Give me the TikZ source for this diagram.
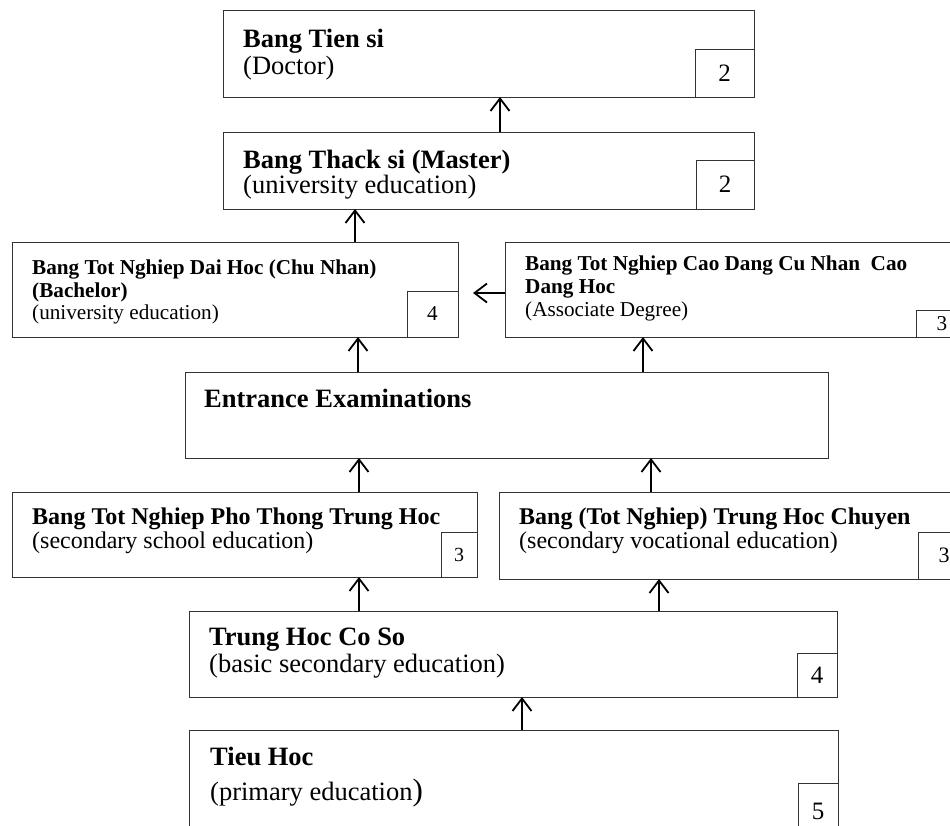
\documentclass[tikz,border=0pt]{standalone}
\usepackage{fontspec}
\setmainfont{Liberation Serif}
\usetikzlibrary{arrows.meta}

\tikzset{
  box/.style={draw=black!80, line width=1pt, inner sep=0pt, outer sep=0pt, anchor=north west},
  numbox/.style={draw=black!80, line width=1pt, inner sep=0pt, outer sep=0pt, anchor=south east},
  lbl/.style={anchor=base west, inner sep=0pt},
  arr/.style={line width=1.8pt, -{Straight Barb[length=12.5pt,width=19pt]}},
}
\newcommand{\bigtxt}{\fontsize{26.5}{30}\selectfont}
\newcommand{\midtxt}{\fontsize{24}{28}\selectfont}
\newcommand{\smalltxt}{\fontsize{21.2}{24}\selectfont}

\begin{document}
\begin{tikzpicture}[x=1pt,y=-1pt]
    \useasboundingbox (0,0) rectangle (950,825);
    \clip (0,0) rectangle (950,825);

    \node[box, minimum width=531, minimum height=87] (doctor) at (223,10) {};
    \node[box, minimum width=531, minimum height=77] (master) at (223,132) {};
    \node[box, minimum width=446, minimum height=95] (bach) at (12,242) {};
    \node[box, minimum width=463, minimum height=95] (assoc) at (505,242) {};
    \node[box, minimum width=643, minimum height=86] (entr) at (185,372) {};
    \node[box, minimum width=465, minimum height=85] (sec) at (12,492) {};
    \node[box, minimum width=471, minimum height=87] (voc) at (499,492) {};
    \node[box, minimum width=648, minimum height=86] (thcs) at (189,611) {};
    \node[box, minimum width=649, minimum height=110] (tieu) at (189,730) {};

    \node[numbox, minimum width=59, minimum height=48] (ndoctor) at (doctor.south east) {\fontsize{25}{25}\selectfont 2};
    \node[numbox, minimum width=58, minimum height=49] (nmaster) at (master.south east) {\fontsize{25}{25}\selectfont 2};
    \node[numbox, minimum width=51, minimum height=46] (nbach) at (bach.south east) {\smalltxt 4};
    \node[numbox, minimum width=52, minimum height=27] (nassoc) at (assoc.south east) {\smalltxt 3};
    \node[numbox, minimum width=36, minimum height=45] (nsec) at (sec.south east) {\fontsize{20}{20}\selectfont 3};
    \node[numbox, minimum width=52, minimum height=47] (nvoc) at (voc.south east) {\fontsize{22}{22}\selectfont 3};
    \node[numbox, minimum width=40, minimum height=44] (nthcs) at (thcs.south east) {\fontsize{25}{25}\selectfont 4};
    \node[numbox, minimum width=40, minimum height=57] (ntieu) at (tieu.south east) {\fontsize{25}{25}\selectfont 5};

    \node[lbl] (tdoctor) at (243,47) {\bigtxt\bfseries Bang Tien si};
    \node[lbl] (sdoctor) at (243,74) {\bigtxt (Doctor)};
    \node[lbl] (tmaster) at (243,168) {\bigtxt\bfseries Bang Thack si (Master)};
    \node[lbl] (smaster) at (243,193) {\bigtxt (university education)};
    \node[lbl] (tbach) at (32,274) {\smalltxt\bfseries Bang Tot Nghiep Dai Hoc (Chu Nhan)};
    \node[lbl] (ubach) at (32,297) {\smalltxt\bfseries (Bachelor)};
    \node[lbl] (sbach) at (32,319) {\smalltxt (university education)};
    \node[lbl] (tassoc) at (525,270) {\smalltxt\bfseries Bang Tot Nghiep Cao Dang Cu Nhan\ \ Cao};
    \node[lbl] (uassoc) at (525,293) {\smalltxt\bfseries Dang Hoc};
    \node[lbl] (sassoc) at (525,316) {\smalltxt (Associate Degree)};
    \node[lbl] (tentr) at (204,407) {\bigtxt\bfseries Entrance Examinations};
    \node[lbl] (tsec) at (32,524) {\midtxt\bfseries Bang Tot Nghiep Pho Thong Trung Hoc};
    \node[lbl] (ssec) at (32,548) {\midtxt (secondary school education)};
    \node[lbl] (tvoc) at (519,524) {\midtxt\bfseries Bang (Tot Nghiep) Trung Hoc Chuyen};
    \node[lbl] (svoc) at (519,548) {\midtxt (secondary vocational education)};
    \node[lbl] (tthcs) at (209,645) {\bigtxt\bfseries Trung Hoc Co So};
    \node[lbl] (sthcs) at (209,672) {\bigtxt (basic secondary education)};
    \node[lbl] (ttieu) at (210,765) {\bigtxt\bfseries Tieu Hoc};
    \node[lbl] (stieu) at (210,800) {\bigtxt (primary education{\fontsize{31}{31}\selectfont )}};

    \coordinate (a1) at (500,0);
    \coordinate (a2) at (355,0);
    \coordinate (a3) at (0,293);
    \coordinate (a4) at (358,0);
    \coordinate (a5) at (643,0);
    \coordinate (a6) at (359,0);
    \coordinate (a7) at (651,0);
    \coordinate (a8) at (659,0);
    \coordinate (a9) at (522,0);

    \draw[arr] (master.north -| a1) -- (doctor.south -| a1);
    \draw[arr] (bach.north -| a2) -- (master.south -| a2);
    \draw[arr, shorten >=15pt] (assoc.west |- a3) -- (bach.east |- a3);
    \draw[arr] (entr.north -| a4) -- (bach.south -| a4);
    \draw[arr] (entr.north -| a5) -- (assoc.south -| a5);
    \draw[arr] (sec.north -| a6) -- (entr.south -| a6);
    \draw[arr] (voc.north -| a7) -- (entr.south -| a7);
    \draw[arr] (thcs.north -| a6) -- (sec.south -| a6);
    \draw[arr] (thcs.north -| a8) -- (voc.south -| a8);
    \draw[arr] (tieu.north -| a9) -- (thcs.south -| a9);
\end{tikzpicture}
\end{document}
